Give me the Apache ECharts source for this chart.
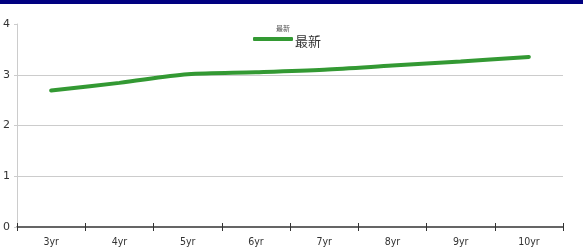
<!DOCTYPE html>
<html><head><meta charset="utf-8">
<script src="https://cdn.jsdelivr.net/npm/echarts@6/dist/echarts.min.js"></script>
<style>html,body{margin:0;padding:0;background:#fff}#c{width:583px;height:250px}</style>
</head><body><div id="c"></div>
<script>
var categories = ['3yr','4yr','5yr','6yr','7yr','8yr','9yr','10yr'];
var seriesName = '最新';
var values = [2.69, 2.84, 3.01, 3.05, 3.10, 3.18, 3.26, 3.35];
var yTicks = [0, 1, 2, 3, 4];

var chart = echarts.init(document.getElementById('c'));
chart.setOption({
  animation: false,
  graphic: [{type:'rect', left:0, top:0, shape:{width:583, height:4}, style:{fill:'#000080'}}],
  title: {text: seriesName, left: 271, top: 20, textStyle:{fontSize:7, color:'#555', fontWeight:'normal', fontFamily:'Noto Sans CJK SC'}},
  legend: {data:[{name:seriesName, icon:'roundRect'}], top: 35, left: 253, padding: 0, itemWidth: 40, itemHeight: 4, itemGap: 2,
    formatter: '{a|{name}}',
    textStyle:{fontSize:13, color:'#333', fontFamily:'Noto Sans CJK SC',
      rich:{a:{fontSize:13, color:'#333', fontFamily:'Noto Sans CJK SC', padding:[5,0,0,-3]}}}},
  grid: {left: 17, right: 20, top: 24, bottom: 23, containLabel: false},
  xAxis: [{type:'category', data: categories, boundaryGap: true,
    axisLine:{lineStyle:{color:'#333', width:1.5}},
    axisTick:{show:true, length:4, inside:false, lineStyle:{color:'#333'}},
    axisLabel:{fontSize:10.5, color:'#333', margin:10, fontFamily:'DejaVu Sans Condensed'}},
    {type:'category', data: categories, boundaryGap: true, position:'bottom',
    axisLine:{show:false},
    axisTick:{show:true, length:4, inside:true, lineStyle:{color:'#333'}},
    axisLabel:{show:false}}],
  yAxis: {type:'value', min: yTicks[0], max: yTicks[yTicks.length-1], interval: 1,
    axisLine:{show:true, lineStyle:{color:'#ccc'}},
    axisTick:{show:true, length:3, lineStyle:{color:'#ccc'}},
    splitLine:{show:false},
    axisLabel:{fontSize:11, color:'#333', margin:7, fontFamily:'DejaVu Sans'}},
  series: [
    {name: 'grid', type:'line', data: [], z: 0, silent: true,
      markLine:{silent:true, symbol:'none', label:{show:false}, animation:false, z: 0,
        lineStyle:{color:'#ccc', width:1, type:'solid'},
        data: yTicks.slice(1, -1).map(function(v){ return {yAxis: v}; })}},
    {name: seriesName, type:'line', data: values, smooth: 0.3, showSymbol: false, z: 5,
    symbol:'none', lineStyle:{width:4, color:'#339933', cap:'round'}, itemStyle:{color:'#339933'}}]
});
</script></body></html>
